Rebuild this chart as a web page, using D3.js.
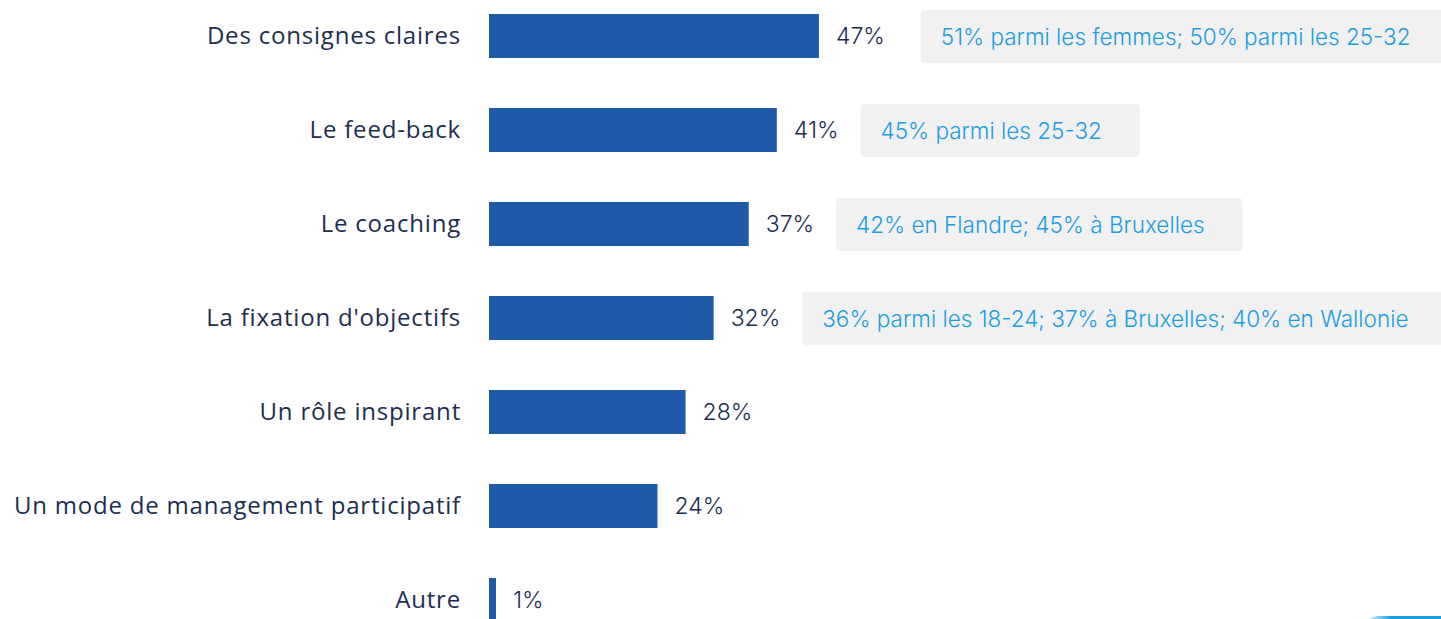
<!DOCTYPE html>
<html>
<head>
<meta charset="utf-8">
<script src="https://cdn.jsdelivr.net/npm/d3@7"></script>
<style>
  body { margin: 0; background: #fff; }
  svg { display: block; }
</style>
</head>
<body>
<svg id="chart"></svg>
<script>
// data
var categories = ["Des consignes claires", "Le feed-back", "Le coaching", "La fixation d'objectifs",
  "Un rôle inspirant", "Un mode de management participatif", "Autre"];
var values = [47, 41, 37, 32, 28, 24, 1];
var notes = ["51% parmi les femmes; 50% parmi les 25-32", "45% parmi les 25-32",
  "42% en Flandre; 45% à Bruxelles", "36% parmi les 18-24; 37% à Bruxelles; 40% en Wallonie",
  "", "", ""];

var width = 1441, height = 619;
var barLeft = 489;

var svg = d3.select("#chart").attr("width", width).attr("height", height);

var x = d3.scaleLinear().domain([0, 100]).range([barLeft, barLeft + 702]);
var y = d3.scaleBand().domain(categories).range([14, 622]).paddingInner(0.532).paddingOuter(0).align(0);

var rows = categories.map(function(c, i) { return {cat: c, val: values[i], note: notes[i]}; });

// category labels
svg.append("g").selectAll("text")
  .data(rows).enter().append("text")
  .attr("x", barLeft - 28)
  .attr("y", d => y(d.cat) + y.bandwidth() / 2)
  .attr("dy", "0.35em")
  .attr("text-anchor", "end")
  .style("font-family", "'Open Sans', sans-serif")
  .style("font-size", "24px")
  .style("letter-spacing", "0.8px")
  .style("fill", "#1c2e50")
  .text(d => d.cat);

// bars
svg.append("g").selectAll("rect")
  .data(rows).enter().append("rect")
  .attr("x", x(0))
  .attr("y", d => y(d.cat))
  .attr("width", d => x(d.val) - x(0))
  .attr("height", y.bandwidth())
  .style("fill", "#1f5aa8");

// value labels
var vals = svg.append("g").selectAll("text")
  .data(rows).enter().append("text")
  .attr("x", d => x(d.val) + 17)
  .attr("y", d => y(d.cat) + y.bandwidth() / 2)
  .attr("dy", "0.36em")
  .style("font-family", "Inter, sans-serif")
  .style("font-size", "23px")
  .style("font-weight", 300)
  .style("fill", "#1c2e50")
  .text(d => d.val + "%");

// annotation boxes
vals.each(function(d, i) {
  if (!d.note) return;
  var endX = x(d.val) + 17 + this.getComputedTextLength();
  var g = svg.append("g");
  var box = g.append("rect")
    .attr("y", y(d.cat) + y.bandwidth() / 2 - 26)
    .attr("height", 53)
    .attr("rx", 4)
    .style("fill", "#f1f1f1");
  var t = g.append("text")
    .attr("y", y(d.cat) + y.bandwidth() / 2 + 1)
    .attr("dy", "0.36em")
    .style("font-family", "Inter, sans-serif")
    .style("font-size", "22.5px")
    .style("font-weight", 300)
    .style("fill", "#1b9de0")
    .text(d.note);
  var bx = endX + (i === 0 ? 36 : 22);
  box.attr("x", bx).attr("width", t.node().getComputedTextLength() + 58);
  t.attr("x", bx + 20);
});

// small decorative shape cut off at bottom right
var grad = svg.append("defs").append("linearGradient").attr("id", "fade");
grad.append("stop").attr("offset", "0").attr("stop-color", "#1b9de0").attr("stop-opacity", 0);
grad.append("stop").attr("offset", "0.25").attr("stop-color", "#1b9de0").attr("stop-opacity", 1);
svg.append("rect").attr("x", 1364).attr("y", 616).attr("width", 110).attr("height", 30)
  .attr("rx", 14).style("fill", "url(#fade)");
</script>
</body>
</html>
